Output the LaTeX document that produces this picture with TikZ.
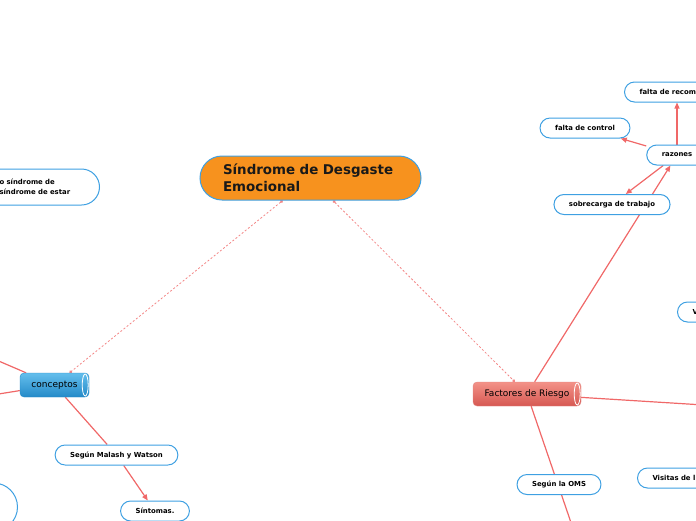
\documentclass[tikz,border=0pt]{standalone}
\usepackage{fontspec}
\setmainfont{DejaVu Sans}
\usetikzlibrary{arrows.meta,backgrounds}
\definecolor{mapred}{RGB}{240,104,104}
\definecolor{maporange}{RGB}{247,146,30}
\definecolor{mapblue}{RGB}{62,160,226}
\definecolor{conlight}{RGB}{100,190,236}
\definecolor{condark}{RGB}{36,138,200}
\definecolor{factop}{RGB}{243,146,136}
\definecolor{facbot}{RGB}{214,88,82}

\begin{document}
\begin{tikzpicture}[
x=1pt, y=-1pt,
topic/.style={draw=mapblue, fill=maporange, line width=1pt, rounded corners=22pt, align=left, text width=175pt, inner xsep=23pt, minimum height=44pt, font=\fontsize{13.4}{17}\selectfont\bfseries, text=black!90},
bubble/.style={draw=mapblue, fill=white, line width=1pt, rounded corners=10pt, minimum height=20pt, inner xsep=15pt, inner ysep=2pt, font=\fontsize{6.9}{9.5}\selectfont\bfseries},
branch/.style={rounded corners=4pt, minimum height=24pt, inner ysep=2pt, font=\fontsize{9}{11}\selectfont},
blueb/.style={branch, top color=conlight, bottom color=condark, draw=condark},
redb/.style={branch, top color=factop, bottom color=facbot, draw=facbot!70},
endcap/.style={draw=white, line width=0.8pt},
arr/.style={-{Triangle[length=6pt,width=5pt]}, draw=mapred, line width=1.2pt},
line/.style={draw=mapred, line width=1.2pt},
link/.style={draw=mapred!80, line width=0.8pt, dash pattern=on 2pt off 2pt, {Circle[length=3pt]}-{Circle[length=3pt]}}
]
\useasboundingbox (0,0) rectangle (696,520);

% main topic
\node[topic] (cen) at (310.5,178) {Síndrome de Desgaste\\Emocional};

% left side
\node[blueb, minimum width=69pt] (con) at (54.5,385) {conceptos};
\draw[endcap] ([xshift=-4pt]con.east) ellipse [x radius=3pt, y radius=11pt];
\node[bubble, anchor=east, text width=126pt, align=left, minimum height=36pt, rounded corners=18pt, inner xsep=4pt] (def) at (100,187) {\hspace*{30pt}o síndrome de\\\hspace*{30pt}síndrome de estar};
\node[bubble] (mal) at (116.5,455) {Según Malash y Watson};
\node[bubble] (sin) at (155,511) {Síntomas.};
\node[bubble, anchor=east, minimum width=100pt, minimum height=48pt, rounded corners=24pt] (lo) at (18,507) {};

% right side
\node[redb, minimum width=108pt] (fac) at (527,394) {Factores de Riesgo};
\draw[endcap] ([xshift=-4pt]fac.east) ellipse [x radius=3pt, y radius=11pt];
\node[bubble] (raz) at (677,155) {razones};
\node[bubble, anchor=west] (rec) at (624,92) {falta de recom};
\node[bubble] (ctl) at (585,128) {falta de control};
\node[bubble] (sob) at (612,204.5) {sobrecarga de trabajo};
\node[bubble, anchor=west] (vv) at (677,312) {V};
\node[bubble] (oms) at (559,484.5) {Según la OMS};
\node[bubble, anchor=west] (vis) at (637,478) {Visitas de l};

% off-page ends
\coordinate (offa) at (-20,353);
\coordinate (offb) at (-20,397);
\coordinate (offc) at (720,406);
\coordinate (offd) at (579,546);

\begin{scope}[on background layer]
\draw[link] (cen) -- (con);
\draw[link] (cen) -- (fac);
\draw[line] (con) -- (offa);
\draw[line] (con) -- (offb);
\draw[line] (con) -- (mal);
\draw[arr] (mal) -- (sin);
\draw[arr] (fac) -- (raz);
\draw[arr] (raz) -- (sob);
\draw[arr] (raz) -- (ctl);
\draw[arr] (raz) -- (raz |- rec.south);
\draw[line] (fac) -- (offc);
\draw[line] (fac) -- (offd);
\end{scope}
\end{tikzpicture}
\end{document}
